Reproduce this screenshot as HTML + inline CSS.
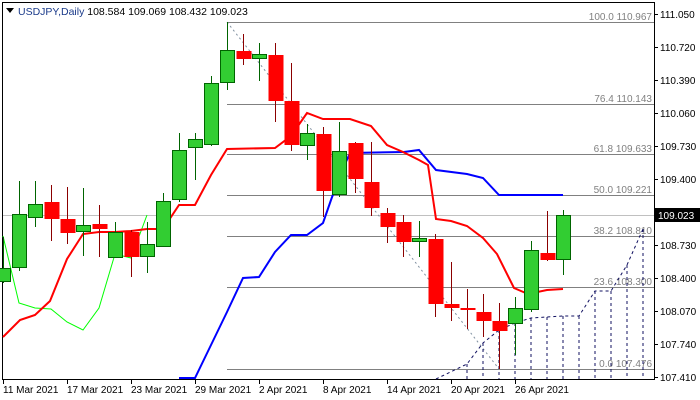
<!DOCTYPE html>
<html><head><meta charset="utf-8"><style>
body{margin:0;background:#fff}
svg{display:block;font-family:"Liberation Sans",sans-serif}
</style></head><body>
<svg width="700" height="400" viewBox="0 0 700 400" xmlns="http://www.w3.org/2000/svg">
<rect width="700" height="400" fill="#fff"/>
<!-- borders -->
<line x1="2.5" y1="2" x2="2.5" y2="380" stroke="#000"/>
<line x1="2" y1="2.5" x2="654" y2="2.5" stroke="#000"/>
<line x1="654.5" y1="2" x2="654.5" y2="380" stroke="#000"/>
<line x1="2" y1="379.5" x2="655" y2="379.5" stroke="#000"/>
<!-- price line -->
<line x1="3" y1="215.5" x2="654" y2="215.5" stroke="#c0c0c0"/>
<!-- fib lines -->
<g stroke="#808080" stroke-width="1">
<line x1="227" y1="22.5" x2="654" y2="22.5"/>
<line x1="227" y1="104.5" x2="654" y2="104.5"/>
<line x1="227" y1="154.5" x2="654" y2="154.5"/>
<line x1="227" y1="195.5" x2="654" y2="195.5"/>
<line x1="227" y1="236.5" x2="654" y2="236.5"/>
<line x1="227" y1="287.5" x2="654" y2="287.5"/>
<line x1="227" y1="369.5" x2="654" y2="369.5"/>
</g>
<g fill="#808080" font-size="10" text-anchor="end">
<text x="652" y="20">100.0 110.967</text>
<text x="652" y="102">76.4 110.143</text>
<text x="652" y="152">61.8 109.633</text>
<text x="652" y="193">50.0 109.221</text>
<text x="652" y="234">38.2 108.810</text>
<text x="652" y="285">23.6 108.300</text>
<text x="652" y="367">0.0 107.476</text>
</g>
<line x1="227" y1="22" x2="499" y2="369" stroke="#8090a0" stroke-dasharray="2,3"/>
<!-- navy dashed -->
<g stroke="#101060" stroke-dasharray="3,3" fill="none">
<polyline points="436,379 467,364 483,343 499,330 515,323 531,318 547,317 563,316 579,316 595,291 611,291 627,265 643,229"/>
<line x1="467" y1="364" x2="467" y2="379"/><line x1="483" y1="343" x2="483" y2="379"/>
<line x1="499" y1="330" x2="499" y2="379"/><line x1="515" y1="323" x2="515" y2="379"/>
<line x1="531" y1="318" x2="531" y2="379"/><line x1="547" y1="317" x2="547" y2="379"/>
<line x1="563" y1="316" x2="563" y2="379"/><line x1="579" y1="316" x2="579" y2="379"/>
<line x1="595" y1="291" x2="595" y2="379"/><line x1="611" y1="291" x2="611" y2="379"/>
<line x1="627" y1="265" x2="627" y2="379"/><line x1="643" y1="229" x2="643" y2="379"/>
</g>
<!-- green thin -->
<polyline fill="none" stroke="#00ff00" stroke-width="1" points="3,236 19,303 35,308 51,309 67,322 83,330 99,308 115,254 131,258 147,215"/>
<!-- blue -->
<polyline fill="none" stroke="#0000ff" stroke-width="2" points="179,378 195,378 211,345 227,312 243,278 259,277 275,252 291,235 307,235 323,223 331,200 340,175 350,153 404,152 419,150 436,170 467,174 483,178 499,195 563,195"/>
<!-- red -->
<polyline fill="none" stroke="#ff0000" stroke-width="2" points="3,337 20,320 35,315 50,301 67,259 83,234 99,232 115,232 131,231 147,229 163,229 179,205 195,205 211,175 227,149 275,148 291,136 307,113 323,119 350,119 371,126 387,145 403,152 419,160 428,165 436,219 451,221 467,226 483,238 497,254 514,288 528,294 547,290 563,289"/>
<!-- candles -->
<g stroke-width="1">
<script></script>
</g>
<g id="c"></g>
<g stroke="#006400">
<!-- green: x, bodyTop, bodyBot, hi, lo -->
<line x1="3.5" y1="237" x2="3.5" y2="283"/><rect x="-3.5" y="268.5" width="14" height="13" fill="#32cd32"/>
<line x1="19.5" y1="181" x2="19.5" y2="271"/><rect x="12.5" y="214.5" width="14" height="53" fill="#32cd32"/>
<line x1="35.5" y1="181" x2="35.5" y2="227"/><rect x="28.5" y="204.5" width="14" height="13" fill="#32cd32"/>
<line x1="83.5" y1="188" x2="83.5" y2="256"/><rect x="76.5" y="225.5" width="14" height="6" fill="#32cd32"/>
<line x1="115.5" y1="222" x2="115.5" y2="257"/><rect x="108.5" y="232.5" width="14" height="25" fill="#32cd32"/>
<line x1="147.5" y1="222" x2="147.5" y2="273"/><rect x="140.5" y="244.5" width="14" height="12" fill="#32cd32"/>
<line x1="163.5" y1="193" x2="163.5" y2="246"/><rect x="156.5" y="201.5" width="14" height="45" fill="#32cd32"/>
<line x1="179.5" y1="133" x2="179.5" y2="202"/><rect x="172.5" y="150.5" width="14" height="49" fill="#32cd32"/>
<line x1="195.5" y1="133" x2="195.5" y2="180"/><rect x="188.5" y="139.5" width="14" height="8" fill="#32cd32"/>
<line x1="211.5" y1="76" x2="211.5" y2="146"/><rect x="204.5" y="83.5" width="14" height="61" fill="#32cd32"/>
<line x1="227.5" y1="22" x2="227.5" y2="90"/><rect x="220.5" y="50.5" width="14" height="32" fill="#32cd32"/>
<line x1="259.5" y1="43" x2="259.5" y2="81"/><rect x="252.5" y="54.5" width="14" height="4" fill="#32cd32"/>
<line x1="307.5" y1="124" x2="307.5" y2="160"/><rect x="300.5" y="133.5" width="14" height="12" fill="#32cd32"/>
<line x1="339.5" y1="122" x2="339.5" y2="197"/><rect x="332.5" y="151.5" width="14" height="43" fill="#32cd32"/>
<line x1="419.5" y1="221" x2="419.5" y2="257"/><rect x="412.5" y="238.5" width="14" height="3" fill="#32cd32"/>
<line x1="515.5" y1="297" x2="515.5" y2="355"/><rect x="508.5" y="308.5" width="14" height="15" fill="#32cd32"/>
<line x1="531.5" y1="241" x2="531.5" y2="312"/><rect x="524.5" y="250.5" width="14" height="59" fill="#32cd32"/>
<line x1="563.5" y1="210" x2="563.5" y2="275"/><rect x="556.5" y="215.5" width="14" height="44" fill="#32cd32"/>
</g>
<g stroke="#8b0000">
<line x1="51.5" y1="185" x2="51.5" y2="241"/><rect x="44.5" y="202" width="15" height="17" fill="#ff0000" stroke="none"/>
<line x1="67.5" y1="187" x2="67.5" y2="244"/><rect x="60.5" y="219" width="15" height="14" fill="#ff0000" stroke="none"/>
<line x1="99.5" y1="205" x2="99.5" y2="257"/><rect x="92.5" y="224" width="15" height="5" fill="#ff0000" stroke="none"/>
<line x1="131.5" y1="230" x2="131.5" y2="277"/><rect x="124.5" y="232" width="15" height="25" fill="#ff0000" stroke="none"/>
<line x1="243.5" y1="34" x2="243.5" y2="65"/><rect x="236.5" y="51" width="15" height="8" fill="#ff0000" stroke="none"/>
<line x1="275.5" y1="43" x2="275.5" y2="122"/><rect x="268.5" y="55" width="15" height="46" fill="#ff0000" stroke="none"/>
<line x1="291.5" y1="63" x2="291.5" y2="151"/><rect x="284.5" y="101" width="15" height="44" fill="#ff0000" stroke="none"/>
<line x1="323.5" y1="127" x2="323.5" y2="217"/><rect x="316.5" y="134" width="15" height="57" fill="#ff0000" stroke="none"/>
<line x1="355.5" y1="142" x2="355.5" y2="193"/><rect x="348.5" y="143" width="15" height="36" fill="#ff0000" stroke="none"/>
<line x1="371.5" y1="142" x2="371.5" y2="216"/><rect x="364.5" y="182" width="15" height="26" fill="#ff0000" stroke="none"/>
<line x1="387.5" y1="208" x2="387.5" y2="243"/><rect x="380.5" y="213" width="15" height="14" fill="#ff0000" stroke="none"/>
<line x1="403.5" y1="215" x2="403.5" y2="257"/><rect x="396.5" y="222" width="15" height="20" fill="#ff0000" stroke="none"/>
<line x1="435.5" y1="234" x2="435.5" y2="317"/><rect x="428.5" y="239" width="15" height="65" fill="#ff0000" stroke="none"/>
<line x1="451.5" y1="262" x2="451.5" y2="321"/><rect x="444.5" y="304" width="15" height="4" fill="#ff0000" stroke="none"/>
<line x1="467.5" y1="289" x2="467.5" y2="329"/><rect x="460.5" y="308" width="15" height="2" fill="#ff0000" stroke="none"/>
<line x1="483.5" y1="294" x2="483.5" y2="337"/><rect x="476.5" y="312" width="15" height="9" fill="#ff0000" stroke="none"/>
<line x1="499.5" y1="303" x2="499.5" y2="369"/><rect x="492.5" y="321" width="15" height="10" fill="#ff0000" stroke="none"/>
<line x1="547.5" y1="211" x2="547.5" y2="261"/><rect x="540.5" y="253" width="15" height="7" fill="#ff0000" stroke="none"/>
</g>
<!-- right axis -->
<g font-size="10" fill="#000">
<g stroke="#000"><line x1="654" y1="14.5" x2="658" y2="14.5"/><line x1="654" y1="47.5" x2="658" y2="47.5"/><line x1="654" y1="80.5" x2="658" y2="80.5"/><line x1="654" y1="113.5" x2="658" y2="113.5"/><line x1="654" y1="146.5" x2="658" y2="146.5"/><line x1="654" y1="179.5" x2="658" y2="179.5"/><line x1="654" y1="212.5" x2="658" y2="212.5"/><line x1="654" y1="245.5" x2="658" y2="245.5"/><line x1="654" y1="278.5" x2="658" y2="278.5"/><line x1="654" y1="311.5" x2="658" y2="311.5"/><line x1="654" y1="344.5" x2="658" y2="344.5"/><line x1="654" y1="377.5" x2="658" y2="377.5"/></g>
<text x="660" y="18">111.050</text><text x="660" y="51">110.720</text><text x="660" y="84">110.390</text><text x="660" y="117">110.060</text><text x="660" y="150">109.730</text><text x="660" y="183">109.400</text><text x="660" y="249">108.730</text><text x="660" y="282">108.400</text><text x="660" y="315">108.070</text><text x="660" y="348">107.740</text><text x="660" y="381">107.410</text>
<rect x="655" y="208" width="45" height="14" fill="#000"/>
<text x="658" y="219" fill="#fff">109.023</text>
</g>
<!-- date axis -->
<g font-size="10" fill="#000">
<g stroke="#000"><line x1="3.5" y1="380" x2="3.5" y2="384"/><line x1="67.5" y1="380" x2="67.5" y2="384"/><line x1="131.5" y1="380" x2="131.5" y2="384"/><line x1="195.5" y1="380" x2="195.5" y2="384"/><line x1="259.5" y1="380" x2="259.5" y2="384"/><line x1="323.5" y1="380" x2="323.5" y2="384"/><line x1="387.5" y1="380" x2="387.5" y2="384"/><line x1="451.5" y1="380" x2="451.5" y2="384"/><line x1="515.5" y1="380" x2="515.5" y2="384"/></g>
<text x="3" y="393">11 Mar 2021</text><text x="67" y="393">17 Mar 2021</text><text x="131" y="393">23 Mar 2021</text><text x="195" y="393">29 Mar 2021</text><text x="259" y="393">2 Apr 2021</text><text x="323" y="393">8 Apr 2021</text><text x="387" y="393">14 Apr 2021</text><text x="451" y="393">20 Apr 2021</text><text x="515" y="393">26 Apr 2021</text>
</g>
<!-- title -->
<polygon points="6,8 14,8 10,13" fill="#000"/>
<text x="18" y="15" font-size="10.5" fill="#000"><tspan fill="#1a3a8a">USDJPY,Daily</tspan>  108.584 109.069 108.432 109.023</text>
</svg>
</body></html>
